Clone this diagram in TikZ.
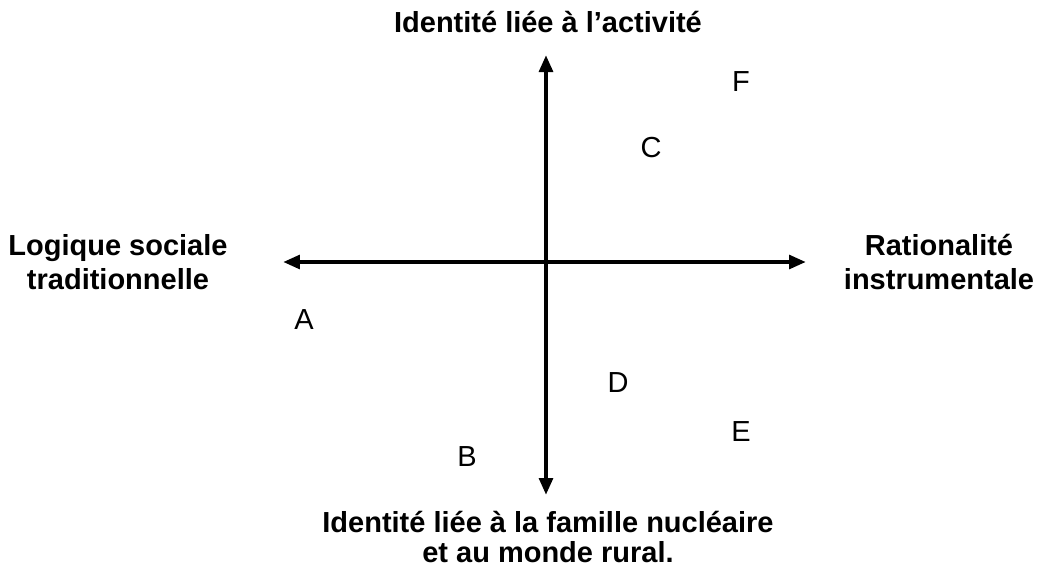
\documentclass[tikz,border=0pt]{standalone}
\usepackage{fontspec}
\setmainfont{Liberation Sans}
\usetikzlibrary{arrows.meta}

\tikzset{
  axis/.style={line width=2.4pt,-{Triangle[length=0.34cm,width=0.27cm]}},
  pole/.style={font=\fontsize{16.5}{19.4}\selectfont\bfseries,align=center},
  casept/.style={font=\fontsize{16.5}{18}\selectfont},
}

\begin{document}
\begin{tikzpicture}[x=0.02cm,y=-0.02cm]
\useasboundingbox (0,0) rectangle (1042,569);
% ---- axes ----
\coordinate (o) at (546,262);
\coordinate (west) at (283,262);
\coordinate (east) at (806,262);
\coordinate (north) at (546,55);
\coordinate (south) at (546,495);
\draw[axis] (o) -- (west);
\draw[axis] (o) -- (east);
\draw[axis] (o) -- (north);
\draw[axis] (o) -- (south);
% ---- poles ----
\node[pole] (top) at (548,22) {Identité liée à l’activité};
\node[pole] (left) at (118,262) {Logique sociale\\traditionnelle};
\node[pole] (right) at (939,262) {Rationalité\\instrumentale};
\node[pole,font=\fontsize{16.5}{17.6}\selectfont\bfseries] (bottom) at (548,537)
  {Identité liée à la famille nucléaire\\et au monde rural.};
% ---- cases ----
\foreach \n/\x/\y in {A/304/320,B/467/457,C/651/148,D/618/383,E/741/432,F/741/82}{
  \node[casept] (case\n) at (\x,\y) {\n};}
\end{tikzpicture}
\end{document}
